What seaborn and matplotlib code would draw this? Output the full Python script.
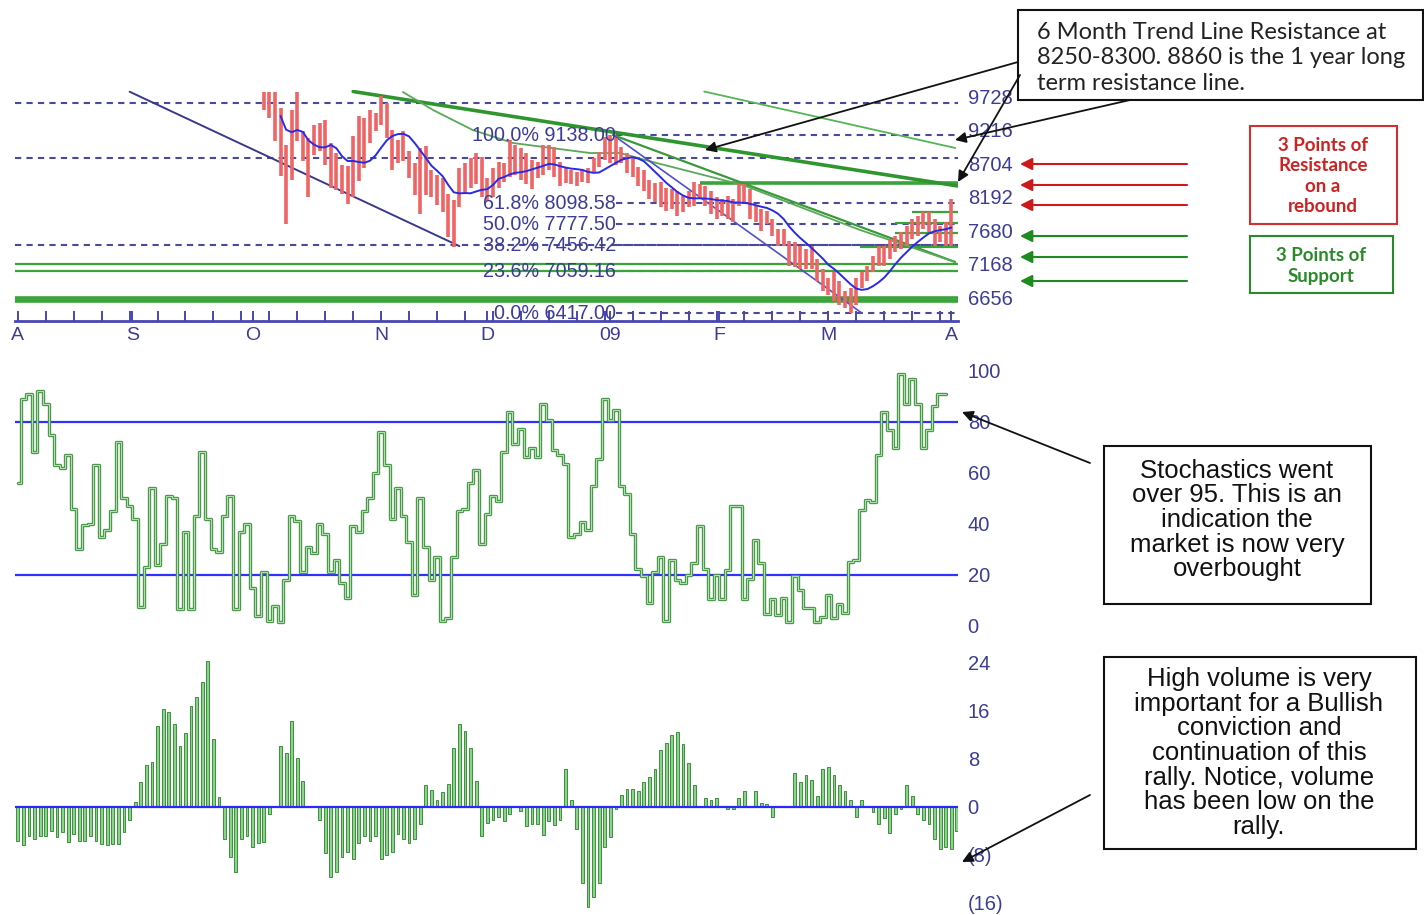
import numpy as np
import pandas as pd
import matplotlib
matplotlib.use("Agg")
import matplotlib.pyplot as plt
import seaborn as sns
from matplotlib.patches import Rectangle, FancyArrowPatch

# ── Style ────────────────────────────────────────────────────────────────────
sns.set_theme(style="white")
plt.rcParams["font.family"] = ["Liberation Sans", "DejaVu Sans"]

W, H = 1424, 915
NAVY = "#3c3c96"

# ── Data (trading-day index on x) ────────────────────────────────────────────
month_days = [0, 20.5, 42, 65, 84, 106, 125.5, 145, 167]
month_labels = ["A", "S", "O", "N", "D", "09", "F", "M", "A"]

price_start_day = 44
price_high = [9803, 9803, 9803, 9546, 8987, 9516, 9803, 9198, 9093, 9289,
              9319, 9365, 9017, 8866, 8684, 8669, 9123, 9425, 9395, 9516,
              9470, 9728, 9622, 9214, 9062, 9198, 8896, 8714, 8941, 8972,
              8608, 8533, 8488, 8231, 8140, 8639, 8714, 8790, 8866,
              8805, 8488, 8639, 8730, 8714, 9062, 8987, 8941, 8866, 8760,
              8730, 8987, 8987, 8956, 8730, 8654, 8608, 8578, 8608, 8639,
              8790, 8881, 9108, 9138, 9093, 8956, 8866, 8805, 8654, 8608,
              8458, 8412, 8427, 8336, 8306, 8276, 8200, 8276, 8427, 8382,
              8352, 8276, 8185,
              8155, 8200, 8155, 8382, 8382, 8306, 8049, 8004, 7974, 7853,
              7702, 7702, 7520, 7505, 7445, 7399, 7445, 7248, 7097, 6946,
              7052, 6900, 6749, 6795, 6946, 7052, 7142, 7293, 7445, 7445,
              7550, 7596, 7656, 7747, 7853, 7898, 7958, 7958, 7853, 7747,
              7807, 8155]
price_low = [9516, 9395, 9047, 8518, 7777, 8458, 9047, 8745, 8185, 8836,
             8896, 8684, 8336, 8291, 8231, 8080, 8185, 8443, 8639, 9017,
             9198, 9289, 9093, 8608, 8714, 8745, 8488, 8216, 7928, 8216,
             8185, 8064, 7958, 7581, 7425, 8034, 8231, 8336, 8382,
             8185, 8125, 8185, 8336, 8427, 8503, 8533, 8458, 8382, 8306,
             8488, 8533, 8608, 8503, 8352, 8412, 8382, 8352, 8427, 8412,
             8563, 8654, 8760, 8714, 8684, 8714, 8563, 8503, 8352, 8276,
             8155, 8110, 8034, 7974, 8004, 7898, 7958, 8034, 8049, 8155,
             8049, 7928, 7853,
             7898, 7853, 7808, 8049, 8110, 7853, 7808, 7671, 7777, 7596,
             7445, 7445, 7142, 7127, 7097, 7097, 7097, 6900, 6749, 6689,
             6598, 6537, 6492, 6417, 6537, 6795, 6900, 7052, 7142, 7142,
             7248, 7354, 7399, 7445, 7550, 7596, 7702, 7656, 7445, 7505,
             7445, 7445]

fib_pcts = ["100.0%", "61.8%", "50.0%", "38.2%", "23.6%", "0.0%"]
fib_levels = [9138.00, 8098.58, 7777.50, 7456.42, 7059.16, 6417.00]
dashed_levels = [9627, 8787, 7456.42]

green_levels = [8405, 7958, 7792, 7640, 7430, 7162, 7065, 6650, 6595]
green_from_day = [122, 160, 157, 157, 150.7, -0.5, -0.5, -0.5, -0.5]

trend_down_days = [20, 79]
trend_down_vals = [9800, 7440]
trend_fall_days = [106.5, 151]
trend_fall_vals = [9138, 6417]
resist_6m_days = [60, 168.2]
resist_6m_vals = [9803, 8359]
resist_1y_days = [122.8, 167.7]
resist_1y_vals = [9803, 8940]
peak_line_days = [106.5, 167.7]
peak_line_vals = [9138, 7197]
green_curve_days = [68.9, 74.3, 81.4, 88.6, 102.4, 107.7, 114.3, 129.7, 150.7, 167.7]
green_curve_vals = [9795, 9520, 9214, 9016, 8863, 8863, 8710, 8374, 7686, 7197]

stoch = [56, 89, 91, 68, 92, 87, 75, 63, 62, 67,
         46, 30, 39.5, 40, 63, 35, 37.5, 45, 72, 50,
         47, 42, 7.6, 23, 54, 24, 32, 51, 50, 6.5,
         37, 6.5, 43, 68, 42, 30, 29, 43, 51, 6.5,
         37, 40, 14.7, 4, 21, 2, 8, 1.7, 18, 43,
         41, 21, 31, 28.5, 40, 36, 21, 26, 17, 11,
         39, 37, 45, 50, 60, 76, 63, 42, 54, 43,
         33, 12, 50, 31, 18, 27, 2, 3, 27, 45,
         46, 56, 61, 32, 44, 51, 49,
         68, 83.7, 71.3, 77.2, 66.2, 69.8, 66.2, 87, 80.5, 68.8,
         66.8, 63.5, 35, 36.2, 40.8, 37.5, 55, 65.5, 89, 80.5,
         84.6, 55, 51.8, 36.2, 22.5, 19.6, 9.2, 21.3, 27.1, 2.1,
         25.8, 18, 17, 20, 24.5, 39, 22.5, 10.4, 20, 10.4,
         22, 46.9, 46.9, 10.4, 18.6, 33.6, 24.5, 4.7, 10.4, 4.3,
         10.8, 1.7, 19.6, 14.1, 7, 7, 1.7, 3.6, 12.1, 3,
         8.8, 4.9, 25.1, 25.8, 45.3, 49.2, 48.6, 66.8, 83.7, 76.6,
         69.8, 98.7, 87, 96.7, 87, 69.8, 76.6, 86.3, 90.9, 91]
stoch_bands = [80, 20]
stoch_ticks = [0, 20, 40, 60, 80, 100]

volume = [-5.6, -6.4, -4.8, -5.3, -4.9, -4.8, -4.0, -5.0, -4.2, -5.9,
          -4.5, -5.7, -5.7, -4.8, -5.7, -6.2, -6.4, -6.1, -6.2, -4.2,
          -2.2, 0.8, 4.1, 7.0, 7.5, 13.5, 16.4, 15.8, 13.8, 10.2,
          12.3, 16.9, 18.3, 20.9, 24.4, 11.3, 1.6, -5.3, -8.3, -10.8,
          -5.3, -4.8, -6.6, -6.0, -5.9, -1.1, 0, 10.1, 9.0, 14.4,
          8.1, 4.3, 0, 0, -2.2, -7.6, -11.6, -10.9, -8.3, -7.5,
          -8.7, -6.0, -4.9, -5.7, -4.9, -8.7, -8.0, -7.5, -4.5, -5.3,
          -6.0, -5.3, -2.8, 3.6, 2.8, 1.1, 2.5, 3.8, 9.9, 13.9,
          12.6, 9.9, 4.3, -4.8, -2.6, -2.1, -1.6,
          -2.3, -1.1, 0, -0.7, -3.1, -2.9, -2.9, -4.6, -2.3, -3.0,
          -2.2, 6.3, 1.2, -3.6, -12.6, -16.7, -15, -12.6, -6.6, -5.0,
          -0.4, 2.0, 3.0, 3.0, 2.7, 4.2, 5.0, 6.4, 9.5, 10.7,
          12.0, 12.5, 10.5, 7.4, 3.6, 0, 1.5, 1.2, 1.5, 0,
          -0.3, -0.3, 1.5, 2.7, 0, 2.7, 0.7, 0.5, -1.6, 0,
          0, 0, 5.7, 4.2, 5.3, 4.5, 1.8, 6.4, 6.6, 5.3,
          3.6, 2.6, 1.1, -1.6, 1.2, 0, -0.9, -2.9, -1.8, -4.3,
          -1.2, -0.4, 3.6, 1.8, -1.1, -2.2, -2.9, -5.4, -7.0, -6.6,
          -7.0, -4.0]
vol_ticks = [24, 16, 8, 0, -8, -16]

# ── Frames ───────────────────────────────────────────────────────────────────
px = pd.DataFrame({
    "day": np.arange(price_start_day, price_start_day + len(price_high)),
    "high": price_high,
    "low": price_low,
})
px["mid"] = (px["high"] + px["low"]) / 2
px["ma"] = px["mid"].rolling(8, min_periods=4).mean()

st = pd.DataFrame({"day": np.arange(len(stoch)), "k": stoch})
vo = pd.DataFrame({"day": np.arange(len(volume)), "vol": volume})

XLIM = (-0.5, 168.2)

fig = plt.figure(figsize=(W / 100, H / 100), dpi=100)
fig.patch.set_facecolor("white")

def axes_px(top, bottom):
    return fig.add_axes([15 / W, 1 - bottom / H, 943 / W, (bottom - top) / H])

ax1 = axes_px(90, 321)
ax2 = axes_px(360.5, 636.2)
ax3 = axes_px(650, 915)

for ax in (ax1, ax2, ax3):
    ax.set_facecolor("white")
    for s in ax.spines.values():
        s.set_visible(False)
    ax.set_xlim(*XLIM)
    ax.yaxis.tick_right()
    ax.tick_params(axis="y", length=0, pad=7, labelcolor=NAVY, labelsize=14.5)

# ── Price panel ──────────────────────────────────────────────────────────────
dash = (0, (3, 2.5))
for lvl in dashed_levels:
    ax1.hlines(lvl, XLIM[0], XLIM[1], color="#4a4a9a", lw=1.5, ls=dash, zorder=1)
for pct, lvl in zip(fib_pcts, fib_levels):
    ax1.hlines(lvl, 107, XLIM[1], color="#4a4a9a", lw=1.5, ls=dash, zorder=1)
    ax1.text(107, lvl, f"{pct} {lvl:.2f}", ha="right", va="center",
             color=NAVY, fontsize=14.2, zorder=6)

for lvl, d0 in zip(green_levels, green_from_day):
    lw = 2.6 if lvl in (8405, 6650, 6595) else 1.6
    ax1.hlines(lvl, d0, XLIM[1], color="#3aa33a", lw=lw, zorder=2)

ax1.plot(resist_6m_days, resist_6m_vals, color="#2f962f", lw=2.6, zorder=3)
ax1.plot(resist_1y_days, resist_1y_vals, color="#55b455", lw=1.3, zorder=3)
ax1.plot(peak_line_days, peak_line_vals, color="#3a9a3a", lw=1.6, zorder=3)
ax1.plot(green_curve_days, green_curve_vals, color="#5aa85a", lw=1.3, zorder=3)
ax1.plot(trend_down_days, trend_down_vals, color="#3a3a8c", lw=1.4, zorder=3)
ax1.plot(trend_fall_days, trend_fall_vals, color="#5050c8", lw=1.2, zorder=3)

ax1.vlines(px["day"], px["low"], px["high"], color="#ef6464", lw=2.6, zorder=4)
sns.lineplot(data=px, x="day", y="ma", color="#2a2ae6", lw=1.4, ax=ax1, zorder=5)

ax1.set_ylim(6296, 9826)
ax1.set_yticks([6656, 7168, 7680, 8192, 8704, 9216, 9728])
ax1.set_xlim(*XLIM)
ax1.set_xticks(month_days)
ax1.set_xticklabels(month_labels)
ax1.set_xticks(np.arange(0, 169, 5), minor=True)
ax1.spines["bottom"].set_visible(True)
ax1.spines["bottom"].set_color("#4646b4")
ax1.spines["bottom"].set_linewidth(2)
ax1.tick_params(axis="x", which="both", bottom=True, direction="in",
                length=7, width=1.4, color="#4646b4", labelcolor=NAVY,
                labelsize=14, pad=4)
ax1.set_xlabel("")
ax1.set_ylabel("")

# ── Stochastic panel ─────────────────────────────────────────────────────────
for b in stoch_bands:
    ax2.axhline(b, color="#3030ff", lw=1.6, zorder=1)
sns.lineplot(data=st, x="day", y="k", drawstyle="steps-mid",
             color="#4a934a", lw=2.4, ax=ax2, zorder=2)
sns.lineplot(data=st, x="day", y="k", drawstyle="steps-mid",
             color="#a8e6a8", lw=0.8, ax=ax2, zorder=3)
ax2.set_ylim(-4, 104)
ax2.set_yticks(stoch_ticks)
ax2.set_xlim(*XLIM)
ax2.set_xticks([])
ax2.set_xlabel("")
ax2.set_ylabel("")

# ── Volume panel ─────────────────────────────────────────────────────────────
sns.barplot(data=vo, x="day", y="vol", native_scale=True, width=0.5,
            color="#86d686", edgecolor="#3e8e3e", linewidth=0.7,
            saturation=1, ax=ax3, zorder=2)
ax3.axhline(0, color="#2828ff", lw=1.6, zorder=3)
ax3.set_ylim(-(915 - 807) / 6.0, (807 - 650) / 6.0)
ax3.set_yticks(vol_ticks)
ax3.set_yticklabels([f"({-v})" if v < 0 else f"{v}" for v in vol_ticks])
ax3.set_xlim(*XLIM)
ax3.set_xticks([])
ax3.set_xlabel("")
ax3.set_ylabel("")

# ── Annotations (figure pixel coords, origin top-left) ───────────────────────
def fxy(x, y):
    return (x / W, 1 - y / H)

def box(x0, y0, x1, y1, ec):
    fig.add_artist(Rectangle(fxy(x0, y1), (x1 - x0) / W, (y1 - y0) / H,
                             transform=fig.transFigure, fc="white", ec=ec,
                             lw=1.5, zorder=5))

def arrow(x0, y0, x1, y1, color, lw=1.3, scale=16):
    fig.add_artist(FancyArrowPatch(fxy(x0, y0), fxy(x1, y1),
                                   transform=fig.transFigure,
                                   arrowstyle="-|>", mutation_scale=scale,
                                   color=color, lw=lw, zorder=6,
                                   shrinkA=0, shrinkB=0))

arrow(1018, 62, 705, 150, "#111111")
arrow(1130, 100, 955, 140, "#111111")
arrow(1020, 75, 958, 182, "#111111")
arrow(1090, 463, 962, 412, "#111111")
arrow(1090, 795, 962, 862, "#111111")
for y in (164, 185, 205):
    arrow(1187, y, 1020, y, "#cc1a1a", lw=1.5, scale=18)
for y in (236, 257, 281):
    arrow(1187, y, 1020, y, "#1f8a1f", lw=1.5, scale=18)

box(1018, 10, 1423, 100, "#111111")
fig.text(*fxy(1037, 58),
         "6 Month Trend Line Resistance at\n8250-8300. 8860 is the 1 year long\nterm resistance line.",
         ha="left", va="center", fontsize=17, family=["Lato", "DejaVu Sans"],
         linespacing=1.27, color="#222222", zorder=7)

box(1250, 126, 1397, 224, "#d03030")
fig.text(*fxy(1323, 176), "3 Points of\nResistance\non a\nrebound",
         ha="center", va="center", fontsize=13.5, fontweight="bold",
         family=["Lato", "DejaVu Sans"], linespacing=1.26, color="#cc2222", zorder=7)

box(1250, 236, 1393, 293, "#2a8a2a")
fig.text(*fxy(1321, 266), "3 Points of\nSupport",
         ha="center", va="center", fontsize=13.5, fontweight="bold",
         family=["Lato", "DejaVu Sans"], linespacing=1.26, color="#2a8a2a", zorder=7)

box(1104, 446, 1371, 604, "#111111")
fig.text(*fxy(1237, 520),
         "Stochastics went\nover 95. This is an\nindication the\nmarket is now very\noverbought",
         ha="center", va="center", fontsize=18.5, linespacing=1.03,
         color="#111111", zorder=7)

box(1104, 657, 1416, 849, "#111111")
fig.text(*fxy(1259, 753),
         "High volume is very\nimportant for a Bullish\nconviction and\ncontinuation of this\nrally. Notice, volume\nhas been low on the\nrally.",
         ha="center", va="center", fontsize=18.5, linespacing=1.03,
         color="#111111", zorder=7)

fig.savefig("out.png", dpi=100, facecolor="white")
